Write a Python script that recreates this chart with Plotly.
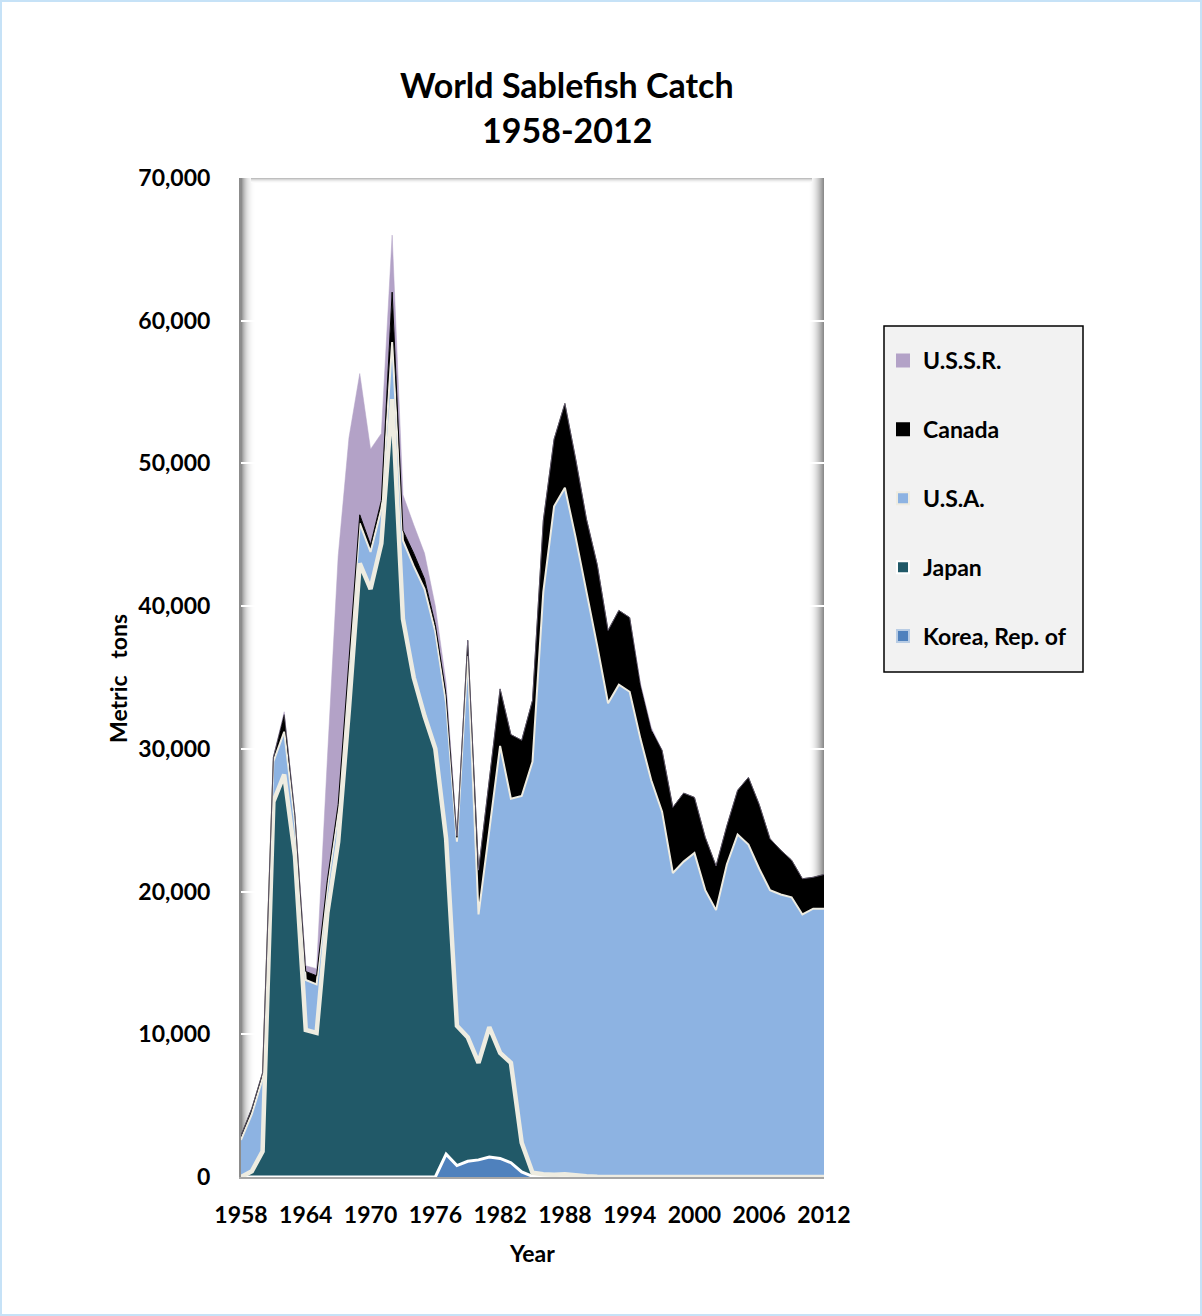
import plotly.graph_objects as go

years = list(range(1958, 2013))

korea = [0, 0, 0, 0, 0, 0, 0, 0, 0, 0, 0, 0, 0, 0, 0, 0, 0, 0, 0,
         1600, 800, 1100, 1200, 1400, 1300, 1000, 350, 50, 50, 50, 100, 50, 20,
         0, 0, 0, 0, 0, 0, 0, 0, 0, 0, 0, 0, 0, 0, 0, 0, 0, 0, 0, 0, 0, 0]
japan = [0, 400, 1800, 26300, 28200, 22500, 10300, 10100, 18500, 23500, 32800, 43000,
         41200, 44400, 54500, 39100, 35000, 32300, 30000, 22100, 9800, 8700, 6800, 9100,
         7400, 7000, 2050, 250, 150, 100, 100, 50, 30, 20,
         0, 0, 0, 0, 0, 0, 0, 0, 0, 0, 0, 0, 0, 0, 0, 0, 0, 0, 0, 0, 0]
usa = [2600, 4000, 5100, 2800, 3000, 2300, 3500, 3400, 1800, 2000, 2700, 2800, 2600,
       2400, 4000, 5500, 7800, 8900, 8200, 9500, 12900, 26700, 10400, 13700, 21500,
       18500, 24300, 28800, 40800, 46850, 48100, 44700, 41050, 37180, 33200, 34500,
       34000, 30700, 27800, 25600, 21300, 22100, 22700, 20100, 18700, 21900, 24000,
       23300, 21600, 20100, 19800, 19600, 18400, 18800, 18800]
canada = [300, 400, 400, 300, 1200, 500, 600, 600, 500, 600, 700, 600, 500, 600, 3500,
          700, 900, 700, 500, 600, 300, 1100, 3100, 3800, 4000, 4500, 3900, 4300, 5000,
          4700, 5900, 5500, 5000, 5700, 5100, 5200, 5200, 3700, 3500, 4300, 4600, 4800,
          3900, 3700, 3100, 2700, 3100, 4700, 4500, 3600, 3100, 2600, 2500, 2200, 2400]
ussr = [0, 0, 0, 0, 200, 100, 400, 500, 8500, 17400, 15600, 9900, 6700, 4700, 4000,
        2500, 2000, 1800, 1300, 800, 100,
        0, 0, 0, 0, 0, 0, 0, 0, 0, 0, 0, 0, 0, 0, 0, 0,
        200, 200,
        0, 0, 0, 0, 0, 0, 0, 0, 0, 0, 0, 0, 0, 0, 0, 0]

x_ticks = [1958, 1964, 1970, 1976, 1982, 1988, 1994, 2000, 2006, 2012]
y_ticks = [0, 10000, 20000, 30000, 40000, 50000, 60000, 70000]
y_labels = ["0", "10,000", "20,000", "30,000", "40,000", "50,000", "60,000", "70,000"]

W, H = 1202, 1316
L, R, T, B = 241, 824, 178, 1177
FONT = "Lato"


def px(xp):
    return (xp - L) / (R - L)


def py(yp):
    return (B - yp) / (B - T)


series = [
    ("Korea, Rep. of", korea, "#4F81BD", "#FFFFFF", 3),
    ("Japan", japan, "#215968", "#EEECE1", 4.5),
    ("U.S.A.", usa, "#8DB3E2", "#EEECE1", 2),
    ("Canada", canada, "#000000", "#000000", 1),
    ("U.S.S.R.", ussr, "#B3A2C7", "#B3A2C7", 0.5),
]

fig = go.Figure()
for name, vals, fc, lc, lw in series:
    fig.add_trace(go.Scatter(
        x=years, y=vals, name=name, mode="lines", stackgroup="one",
        fillcolor=fc, line=dict(color=lc, width=lw), showlegend=False,
        hoverinfo="skip"))

legend_items = [
    ("U.S.S.R.", "#B3A2C7", "#B3A2C7"),
    ("Canada", "#000000", "#000000"),
    ("U.S.A.", "#8DB3E2", "#EEECE1"),
    ("Japan", "#215968", "#FFFFFF"),
    ("Korea, Rep. of", "#4F81BD", "#B8CCE4"),
]
for i, (name, fc, bc) in enumerate(legend_items):
    fig.add_trace(go.Scatter(
        x=[None], y=[None], name=f"<b>{name}</b>", mode="markers", legendgroup=str(i),
        marker=dict(symbol="square", size=16, color=fc, line=dict(color=bc, width=2))))

shapes = []
# outer light-blue frame
shapes.append(dict(type="rect", xref="paper", yref="paper", x0=px(1), x1=px(W - 1),
                   y0=py(H - 1), y1=py(1), line=dict(color="#C6E2F7", width=2),
                   fillcolor="rgba(0,0,0,0)", layer="below"))
# legend box
shapes.append(dict(type="rect", xref="paper", yref="paper", x0=px(884), x1=px(1083),
                   y0=py(672), y1=py(326), line=dict(color="black", width=1.5),
                   fillcolor="#F2F2F2", layer="below"))
# left shading gradient
left_grays = [140, 160, 178, 193, 206, 217, 226, 233, 239, 244, 248, 251, 253, 254]
for i, g in enumerate(left_grays):
    c = f"rgb({g},{g},{g})"
    shapes.append(dict(type="rect", xref="paper", yref="paper", x0=px(L + i), x1=px(L + i + 1),
                       y0=0, y1=1, line=dict(width=0), fillcolor=c, layer="below"))
# right shading gradient
right_grays = [254, 252, 249, 245, 240, 234, 227, 219, 210, 200, 189, 177, 165, 152, 140]
for i, g in enumerate(right_grays):
    c = f"rgb({g},{g},{g})"
    x0 = R - len(right_grays) + i
    shapes.append(dict(type="rect", xref="paper", yref="paper", x0=px(x0), x1=px(x0 + 1),
                       y0=0, y1=1, line=dict(width=0), fillcolor=c, layer="below"))
# top shading
top_grays = [190, 215, 232, 244, 251]
for i, g in enumerate(top_grays):
    c = f"rgb({g},{g},{g})"
    shapes.append(dict(type="rect", xref="paper", yref="paper", x0=px(L + 10), x1=px(R - 12),
                       y0=py(T + i + 1), y1=py(T + i), line=dict(width=0), fillcolor=c,
                       layer="below"))

annotations = [
    dict(text="<b>World Sablefish Catch</b>", x=px(567), y=py(85), xref="paper", yref="paper",
         showarrow=False, xanchor="center", yanchor="middle",
         font=dict(family=FONT, size=34, color="black")),
    dict(text="<b>1958-2012</b>", x=px(567), y=py(130), xref="paper", yref="paper",
         showarrow=False, xanchor="center", yanchor="middle",
         font=dict(family=FONT, size=34, color="black")),
    dict(text="<b>Year</b>", x=px(532), y=py(1253), xref="paper", yref="paper",
         showarrow=False, xanchor="center", yanchor="middle",
         font=dict(family=FONT, size=23, color="black")),
    dict(text="<b>Metric\u00a0\u00a0\u00a0tons</b>", x=px(118), y=py(678), xref="paper",
         yref="paper", showarrow=False, xanchor="center", yanchor="middle", textangle=-90,
         font=dict(family=FONT, size=23, color="black")),
]

fig.update_layout(
    width=W, height=H,
    margin=dict(l=L, r=W - R, t=T, b=H - B, pad=0),
    paper_bgcolor="white", plot_bgcolor="white",
    font=dict(family=FONT, size=23, color="black"),
    showlegend=True,
    legend=dict(x=px(883), y=py(339), xanchor="left", yanchor="top",
                bgcolor="rgba(0,0,0,0)", borderwidth=0,
                traceorder="grouped", tracegroupgap=36,
                font=dict(family=FONT, size=23, color="black"),
                itemsizing="constant"),
    shapes=shapes,
    annotations=annotations,
    xaxis=dict(range=[1958, 2012], tickvals=x_ticks,
               ticktext=[f"<b>{t}</b>" for t in x_ticks],
               showgrid=False, zeroline=False, showline=True, linecolor="#A6A6A6",
               linewidth=2, ticks="outside", ticklen=16, tickcolor="rgba(0,0,0,0)",
               tickfont=dict(family=FONT, size=23, color="black")),
    yaxis=dict(range=[0, 70000], tickvals=y_ticks,
               ticktext=[f"<b>{t}</b>" for t in y_labels],
               showgrid=True, gridcolor="white", gridwidth=2, zeroline=False,
               showline=True, linecolor="#8C8C8C", linewidth=2,
               ticks="outside", ticklen=24, tickcolor="rgba(0,0,0,0)",
               tickfont=dict(family=FONT, size=23, color="black")),
)

fig.write_html("out.html", config={"displayModeBar": False},
               post_script="document.body.style.margin='0';document.body.style.overflow='hidden';")
